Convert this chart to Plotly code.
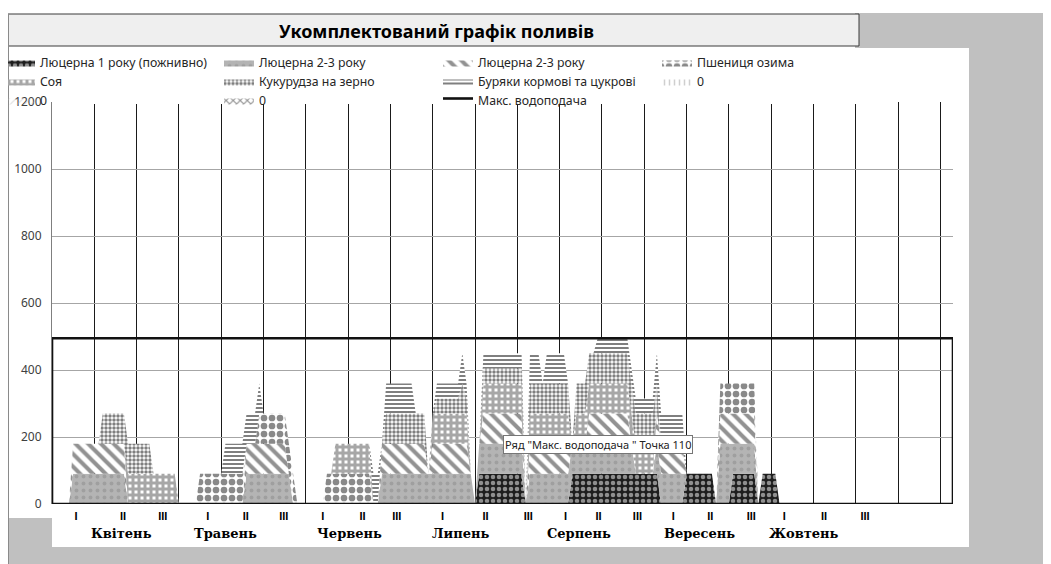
import plotly.graph_objects as go

# ---------------- data ----------------
# x axis: day index from 1 April (0) to 31 October (213)
days = list(range(214))

# irrigation blocks per crop: (first_day, last_day, value)
lucerne1_blocks = [(101, 111, 90), (123, 143, 90), (150, 156, 90), (161, 166, 90), (168, 171, 90)]
lucerne23a_blocks = [(5, 17, 90), (46, 56, 90), (78, 99, 90), (101, 111, 90), (113, 137, 90),
                     (143, 149, 90), (158, 160, 180), (161, 166, 90)]
lucerne23b_blocks = [(5, 17, 90), (46, 55, 90), (78, 88, 90), (90, 98, 90), (102, 111, 90),
                     (113, 122, 90), (127, 136, 90), (143, 149, 90), (158, 166, 90)]
wheat_blocks = [(35, 45, 90), (49, 57, 90), (65, 75, 90), (158, 166, 90)]
soy_blocks = [(18, 29, 90), (67, 75, 90), (90, 98, 90), (102, 111, 90), (113, 122, 90), (124, 142, 90)]
corn_blocks = [(12, 23, 90), (79, 88, 90), (91, 96, 45), (97, 97, 90), (98, 98, 45),
               (102, 111, 45), (113, 122, 90), (124, 143, 90)]
beet_blocks = [(41, 49, 90), (76, 77, 90), (79, 85, 90), (91, 96, 45), (97, 97, 90), (98, 98, 45),
               (102, 111, 45), (113, 115, 90), (117, 121, 90), (129, 142, 45), (143, 149, 90)]
zero_blocks = []
max_supply_value = 495

series_names = ["Люцерна 1 року (пожнивно)", "Люцерна 2-3 року", "Люцерна 2-3 року",
                "Пшениця озима", "Соя", "Кукурудза на зерно", "Буряки кормові та цукрові",
                "0", "0", "0"]
max_name = "Макс. водоподача"

decade_labels = ["I", "II", "III"] * 7
decade_label_pos = [5.7, 16.8, 26.2, 36.8, 45.8, 54.8, 64.0, 73.4, 81.5,
                    92.3, 102.5, 112.6, 121.4, 129.2, 138.4, 146.9, 155.6, 165.3,
                    173.1, 182.5, 192.2]
months = ["Квітень", "Травень", "Червень", "Липень", "Серпень", "Вересень", "Жовтень"]
month_pos = [16.5, 41.1, 70.4, 96.6, 124.7, 153.0, 177.8]


def expand(blocks):
    vals = [0] * len(days)
    for s, e, v in blocks:
        for d in range(s, e + 1):
            vals[d] = v
    return vals


series_blocks = [lucerne1_blocks, lucerne23a_blocks, lucerne23b_blocks, wheat_blocks,
                 soy_blocks, corn_blocks, beet_blocks, zero_blocks, zero_blocks, zero_blocks]

clear = "rgba(0,0,0,0)"
patterns = [
    dict(shape=".", fgcolor="#ffffff", bgcolor="#1e1e1e", size=6, solidity=0.45),
    dict(shape=".", fgcolor="#8a8a8a", bgcolor="#b4b4b4", size=7, solidity=0.25),
    dict(shape="\\", fgcolor="#262626", bgcolor="#ffffff", size=9, solidity=0.45),
    dict(shape=".", fgcolor="#141414", bgcolor="#ffffff", size=8, solidity=0.55),
    dict(shape="+", fgcolor="#505050", bgcolor="#ffffff", size=6, solidity=0.75),
    dict(shape=".", fgcolor="#000000", bgcolor="#ffffff", size=4, solidity=0.6),
    dict(shape="-", fgcolor="#000000", bgcolor="#ffffff", size=4, solidity=0.5),
    dict(shape="|", fgcolor="#a0a0a0", bgcolor=clear, size=5, solidity=0.3),
    dict(shape="/", fgcolor="#b4b4b4", bgcolor=clear, size=5, solidity=0.2),
    dict(shape="x", fgcolor="#333333", bgcolor="#ffffff", size=5, solidity=0.4),
]

# ---------------- layout helpers (window pixel -> paper) ----------------
# the page body adds an 8 px offset, so the figure is 8 px smaller than the window
OFF = 8
WIN_W, WIN_H = 1051, 564
W, H = WIN_W - OFF, WIN_H - OFF
PL, PR, PT, PB = 52, 953, 102, 504   # plot area edges in window pixels


def fx(px):
    return (px - PL) / (PR - PL)


def fy(py):
    return (PB - py) / (PB - PT)


fig = go.Figure()

for name, blocks, pat in zip(series_names, series_blocks, patterns):
    fig.add_trace(go.Scatter(
        x=days, y=expand(blocks), name=name, stackgroup="one", mode="lines",
        line=dict(width=0, color=pat["fgcolor"]),
        fillcolor=pat["bgcolor"], fillpattern=pat, hoverinfo="skip"))

max_vals = [max_supply_value] * len(days)
fig.add_trace(go.Scatter(
    x=[days[0]] + days + [days[-1], days[0]],
    y=[0] + max_vals + [0, 0],
    name=max_name, mode="lines", fill="toself", fillcolor=clear,
    line=dict(color="#111111", width=2.6), hoverinfo="skip"))

shapes = []
gray = "#c0c0c0"
# outer gray window regions
shapes.append(dict(type="rect", xref="paper", yref="paper", x0=fx(855), x1=fx(1060), y0=fy(13), y1=fy(48),
                   fillcolor=gray, line=dict(width=0), layer="below"))
shapes.append(dict(type="rect", xref="paper", yref="paper", x0=fx(969), x1=fx(1060), y0=fy(47), y1=fy(570),
                   fillcolor=gray, line=dict(width=0), layer="below"))
shapes.append(dict(type="rect", xref="paper", yref="paper", x0=fx(8), x1=fx(1060), y0=fy(547), y1=fy(570),
                   fillcolor=gray, line=dict(width=0), layer="below"))
shapes.append(dict(type="rect", xref="paper", yref="paper", x0=fx(8), x1=fx(52), y0=fy(518), y1=fy(547),
                   fillcolor=gray, line=dict(width=0), layer="below"))
# title box
shapes.append(dict(type="rect", xref="paper", yref="paper", x0=fx(8), x1=fx(859), y0=fy(14), y1=fy(46),
                   fillcolor="#efefef", line=dict(width=1, color="#3a3a3a"), layer="below"))
# left frame line
shapes.append(dict(type="line", xref="paper", yref="paper", x0=fx(8), x1=fx(8), y0=fy(14), y1=fy(570),
                   line=dict(width=2, color="#8a8a8a"), layer="below"))
# legend box hides the top grid line
shapes.append(dict(type="rect", xref="paper", yref="paper", x0=fx(52), x1=fx(874), y0=fy(96), y1=fy(104),
                   fillcolor="#ffffff", line=dict(width=0), layer="above"))

annotations = []
annotations.append(dict(text="<b>Укомплектований графік поливів</b>", xref="paper", yref="paper",
                        x=fx(436), y=fy(31), xanchor="center", yanchor="middle", showarrow=False,
                        font=dict(family="Noto Sans", size=18, color="#000000")))
for m, p in zip(months, month_pos):
    annotations.append(dict(text="<b>" + m + "</b>", xref="x", yref="paper", x=p, y=fy(533),
                            xanchor="center", yanchor="middle", showarrow=False,
                            font=dict(family="DejaVu Serif", size=13, color="#000000")))
annotations.append(dict(text='Ряд "Макс. водоподача " Точка 110', xref="paper", yref="paper",
                        x=fx(598), y=fy(444.5), xanchor="center", yanchor="middle", showarrow=False,
                        bgcolor="#ffffff", bordercolor="#767676", borderwidth=1, borderpad=1,
                        font=dict(family="Noto Sans", size=11, color="#222222")))

fig.update_layout(
    width=W, height=H,
    margin=dict(l=PL - OFF, r=W - (PR - OFF), t=PT - OFF, b=H - (PB - OFF), pad=0, autoexpand=False),
    paper_bgcolor="#ffffff", plot_bgcolor="#ffffff",
    font=dict(family="Noto Sans", size=12, color="#404040"),
    showlegend=True,
    legend=dict(orientation="h", x=fx(0), y=fy(48), xanchor="left", yanchor="top",
                entrywidth=174, entrywidthmode="pixels", itemwidth=30, traceorder="normal",
                bgcolor=clear, font=dict(family="Noto Sans", size=12.3, color="#262626")),
    shapes=shapes, annotations=annotations,
    xaxis=dict(range=[0, 213], tickmode="array", tickvals=decade_label_pos, ticktext=decade_labels,
               showgrid=False, zeroline=False, ticks="", showline=False,
               tickfont=dict(family="Liberation Sans", size=11, color="#000000", weight="bold"),
               ticklabelstandoff=4,
               minor=dict(tickmode="linear", tick0=0, dtick=10, showgrid=True,
                          gridcolor="#1a1a1a", gridwidth=1, ticks="")),
    yaxis=dict(range=[0, 1200], dtick=200, showgrid=True, gridcolor="#a6a6a6", gridwidth=1,
               zeroline=False, showline=True, linecolor="#7f7f7f", linewidth=1, ticks="",
               ticklabelstandoff=7,
               tickfont=dict(family="Noto Sans", size=12, color="#404040")),
)

fig.write_html("out.html")
